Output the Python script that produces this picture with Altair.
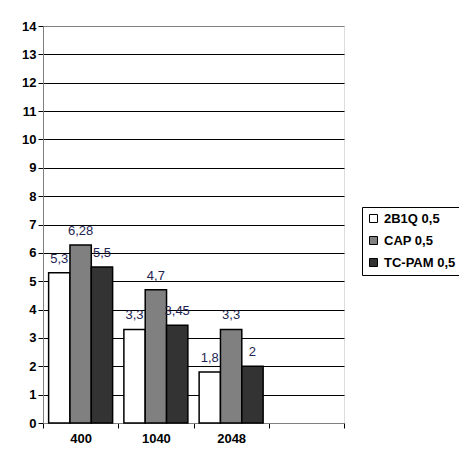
import altair as alt
import pandas as pd

categories = ["400", "1040", "2048", ""]
series = ["2B1Q 0,5", "CAP 0,5", "TC-PAM 0,5"]
v_2b1q = [5.3, 3.3, 1.8]
v_cap = [6.28, 4.7, 3.3]
v_tcpam = [5.5, 3.45, 2.0]
colors = ["#FFFFFF", "#808080", "#333333"]
y_ticks = list(range(0, 15))

rows = []
for s, vals in zip(series, [v_2b1q, v_cap, v_tcpam]):
    for c, v in zip(categories[:3], vals):
        rows.append({"cat": c, "series": s, "value": v,
                     "label": f"{v:g}".replace(".", ",")})
df = pd.DataFrame(rows)

FONT = "Liberation Sans"

x_enc = alt.X("cat:N", sort=categories,
              scale=alt.Scale(domain=categories, paddingInner=0, paddingOuter=0),
              axis=alt.Axis(title=None, labelAngle=0, tickBand="extent",
                            domainColor="#808080", tickColor="black", tickSize=5,
                            labelPadding=4, labelFont=FONT, labelFontSize=13,
                            labelFontWeight="bold", labelColor="black", grid=False))
xo_enc = alt.XOffset("series:N", sort=series,
                     scale=alt.Scale(domain=series, paddingInner=0, paddingOuter=0.264))
y_enc = alt.Y("value:Q", scale=alt.Scale(domain=[0, 14], nice=False),
              axis=alt.Axis(title=None, values=y_ticks, grid=True, labelOverlap=False,
                            gridColor={"condition": {"test": "datum.value == 0 || datum.value == 14",
                                                     "value": "#808080"},
                                       "value": "black"},
                            gridWidth=1, gridOpacity=1, domainColor="#808080",
                            tickColor="black", tickSize=5, labelPadding=2,
                            labelFont=FONT, labelFontSize=13, labelFontWeight="bold",
                            labelColor="black"))

bars = alt.Chart(df).mark_bar(stroke="black", strokeWidth=1.5).encode(
    x=x_enc, xOffset=xo_enc, y=y_enc,
    color=alt.Color("series:N", sort=series,
                    scale=alt.Scale(domain=series, range=colors),
                    legend=alt.Legend(title=None, orient="none", legendX=319, legendY=181,
                                      strokeColor="black", fillColor="white",
                                      padding=5, rowPadding=8, symbolType="square",
                                      symbolSize=64, symbolStrokeColor="black",
                                      symbolStrokeWidth=1, labelFont=FONT,
                                      labelFontSize=13, labelFontWeight="bold",
                                      labelColor="black", labelOffset=4))
)

text = alt.Chart(df).mark_text(dy=-10, baseline="alphabetic", fontSize=13,
                               font=FONT, color="#1e2450").encode(
    x=x_enc, xOffset=xo_enc, y=y_enc, text="label:N")

chart = alt.layer(bars, text).properties(
    width=301, height=397,
    autosize=alt.AutoSizeParams(type="none"),
    padding={"left": 35, "top": 18, "right": 115, "bottom": 30},
).configure_view(stroke="#808080", strokeWidth=1).configure(background="white")

chart.save("out.html", embed_options={"renderer": "svg", "actions": False})
